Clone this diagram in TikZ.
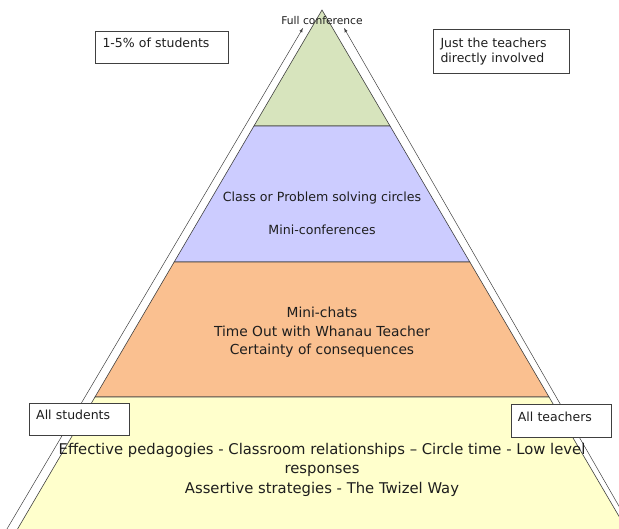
\documentclass[tikz,border=0pt]{standalone}
\usepackage{fontspec}
\setmainfont{DejaVu Sans}
\usetikzlibrary{calc}
\definecolor{levelgreen}{HTML}{D7E4BD}
\definecolor{levelblue}{HTML}{CCCCFF}
\definecolor{levelorange}{HTML}{FAC090}
\definecolor{levelyellow}{HTML}{FFFFCC}
\definecolor{edgegray}{HTML}{404040}
\definecolor{textgray}{HTML}{1E1E1E}

\tikzset{
  band/.style={draw=edgegray, line width=0.6pt},
  sidearrow/.style={->, >=latex, draw=edgegray, line width=0.5pt},
  labelbox/.style={draw=edgegray, fill=white, anchor=north west, inner xsep=7pt, inner ysep=3pt,
    align=left, text=textgray, font=\fontsize{12.5}{14.6}\selectfont},
  onebox/.style={labelbox, text height=13.5pt, text depth=13.1pt},
  leveltext/.style={align=center, text=textgray}
}

\begin{document}
\begin{tikzpicture}[x=1pt, y=-1pt]
\useasboundingbox (0,0) rectangle (619,528);
\clip (0,0) rectangle (619,528);

\coordinate (apex) at (322,10);
\coordinate (bl) at (11.1,540);
\coordinate (br) at (632.9,540);

\draw[band, fill=levelgreen] (apex) -- ($(apex)!0.2189!(br)$) -- ($(apex)!0.2189!(bl)$) -- cycle;
\draw[band, fill=levelblue] ($(apex)!0.2189!(bl)$) -- ($(apex)!0.2189!(br)$)
  -- ($(apex)!0.4755!(br)$) -- ($(apex)!0.4755!(bl)$) -- cycle;
\draw[band, fill=levelorange] ($(apex)!0.4755!(bl)$) -- ($(apex)!0.4755!(br)$)
  -- ($(apex)!0.7302!(br)$) -- ($(apex)!0.7302!(bl)$) -- cycle;
\draw[band, fill=levelyellow] ($(apex)!0.7302!(bl)$) -- ($(apex)!0.7302!(br)$)
  -- (br) -- (bl) -- cycle;

\coordinate (lfoot) at (-2.5,545);
\coordinate (ltip) at (303,28);
\coordinate (rfoot) at (641.3,545);
\coordinate (rtip) at (344,28);
\draw[sidearrow] (lfoot) -- (ltip);
\draw[sidearrow] (rfoot) -- (rtip);

\node[leveltext, font=\fontsize{10.7}{12}\selectfont] (full) at (322,21) {Full conference};
\node[leveltext, font=\fontsize{12.6}{33.3}\selectfont] (circles) at (322,213.4)
  {Class or Problem solving circles\\Mini-conferences};
\node[leveltext, font=\fontsize{13.8}{18.3}\selectfont] (chats) at (322,332.3)
  {Mini-chats\\Time Out with Whanau Teacher\\Certainty of consequences};
\node[leveltext, font=\fontsize{14.8}{19.2}\selectfont] (pedagogies) at (322,469.8)
  {Effective pedagogies - Classroom relationships – Circle time - Low level\\responses\\Assertive strategies - The Twizel Way};

\node[onebox, text width=119pt] (fewstudents) at (95.3,30.7) {1-5\% of students};
\node[labelbox, text width=121.7pt, minimum height=44.3pt] (fewteachers) at (433.3,29)
  {Just the teachers\\directly involved};
\node[onebox, text width=86.3pt] (allstudents) at (29,402.7) {All students};
\node[onebox, text width=86.6pt] (allteachers) at (510.7,404.3) {All teachers};

\end{tikzpicture}
\end{document}
